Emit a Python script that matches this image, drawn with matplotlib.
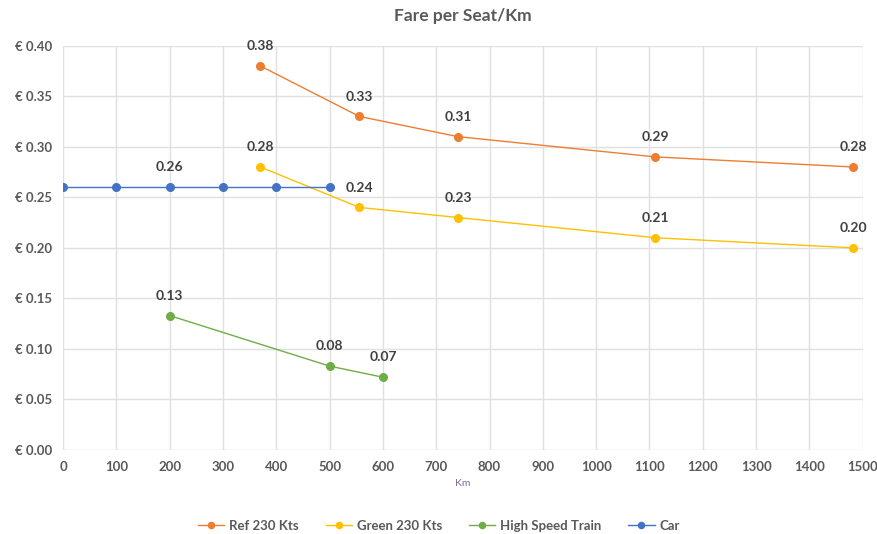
import matplotlib.pyplot as plt
from matplotlib.ticker import FuncFormatter

plt.rcParams['font.family'] = ['Lato', 'DejaVu Sans']

# distances (km) and fares (EUR per seat/km)
ref_km = [370, 556, 741, 1111, 1482]
ref_fare = [0.38, 0.33, 0.31, 0.29, 0.28]
green_km = [370, 556, 741, 1111, 1482]
green_fare = [0.28, 0.24, 0.23, 0.21, 0.20]
hst_km = [200, 500, 600]
hst_fare = [0.133, 0.083, 0.072]
car_km = [0, 100, 200, 300, 400, 500]
car_fare = [0.26, 0.26, 0.26, 0.26, 0.26, 0.26]

series = [
    ("Ref 230 Kts", ref_km, ref_fare, "#ED7D31", None),
    ("Green 230 Kts", green_km, green_fare, "#FFC000", None),
    ("High Speed Train", hst_km, hst_fare, "#70AD47", None),
    ("Car", car_km, car_fare, "#4472C4", [2]),
]

fig = plt.figure(figsize=(8.78, 5.34), dpi=100)
ax = fig.add_axes([0.0718, 0.1573, 0.9108, 0.7571])

txt = "#404040"
for name, xs, ys, col, lab_idx in series:
    ax.plot(xs, ys, color=col, lw=1.0, marker='o', ms=5.5, label=name, zorder=3)
    idx = range(len(xs)) if lab_idx is None else lab_idx
    for i in idx:
        ax.annotate(f"{ys[i]:.2f}", (xs[i], ys[i]), xytext=(0, 10),
                    textcoords='offset points', ha='center', va='bottom',
                    fontsize=10, fontweight='bold', color=txt)

ax.set_xlim(0, 1500)
ax.set_ylim(0, 0.40)
ax.set_xticks(range(0, 1501, 100))
ax.set_yticks([i * 0.05 for i in range(9)])
ax.yaxis.set_major_formatter(FuncFormatter(lambda v, p: f"€ {v:.2f}"))
ax.grid(True, color="#E0E0E0", lw=1)
ax.set_axisbelow(True)
for s in ax.spines.values():
    s.set_visible(False)
ax.tick_params(length=0, labelsize=9.5, labelcolor="#595959", pad=8)
for lbl in ax.get_xticklabels() + ax.get_yticklabels():
    lbl.set_fontweight('bold')

ax.set_xlabel("Km", fontsize=7.5, color="#7F6A93", labelpad=4)
fig.suptitle("Fare per Seat/Km", x=0.527, y=0.985, fontsize=12.5,
             fontweight='bold', color="#595959")

leg = fig.legend(loc='lower center', bbox_to_anchor=(0.5, -0.018), ncol=4,
                 frameon=False, fontsize=9.5, handlelength=2.0,
                 columnspacing=2.0, handletextpad=0.4, markerscale=0.8)
for t in leg.get_texts():
    t.set_fontweight('bold')
    t.set_color("#595959")

fig.savefig("out.png", dpi=100)
